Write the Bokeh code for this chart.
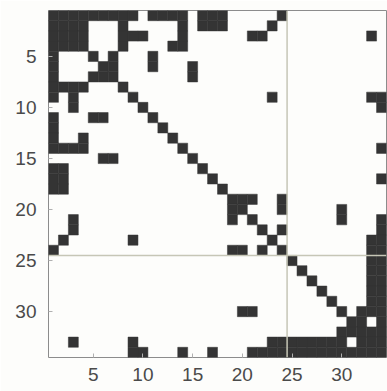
from bokeh.plotting import figure
from bokeh.models import Range1d, FixedTicker, Span, ColumnDataSource
from bokeh.embed import file_html
from bokeh.resources import INLINE

# Zachary karate-club friendships: member -> higher-numbered friends
friends = {
    1: [2, 3, 4, 5, 6, 7, 8, 9, 11, 12, 13, 14, 18, 20, 22, 32],
    2: [3, 4, 8, 14, 18, 20, 22, 31],
    3: [4, 8, 9, 10, 14, 28, 29, 33],
    4: [8, 13, 14],
    5: [7, 11],
    6: [7, 11, 17],
    7: [17],
    9: [31, 33, 34],
    10: [34],
    14: [34],
    15: [33, 34],
    16: [33, 34],
    19: [33, 34],
    20: [34],
    21: [33, 34],
    23: [33, 34],
    24: [26, 28, 30, 33, 34],
    25: [26, 28, 32],
    26: [32],
    27: [30, 34],
    28: [34],
    29: [32, 34],
    30: [33, 34],
    31: [33, 34],
    32: [33, 34],
    33: [34],
}

# Member placed at each row/column (1-based position along the axes)
order = [1, 2, 3, 4, 5, 6, 7, 8, 9, 10, 11, 12, 13, 14, 17, 18, 20, 22,
         25, 26, 28, 29, 31, 32, 15, 16, 19, 21, 23, 24, 27, 30, 33, 34]

tick_values = [5, 10, 15, 20, 25, 30]
block_size = 24          # members in the first group

n = len(order)
pos = {member: k + 1 for k, member in enumerate(order)}

# nonzero pattern of A + I in the chosen ordering
cells = set()
for m in order:
    cells.add((pos[m], pos[m]))
for a, lst in friends.items():
    for b in lst:
        cells.add((pos[a], pos[b]))
        cells.add((pos[b], pos[a]))
cells = sorted(cells)
src = ColumnDataSource(dict(col=[c for _, c in cells], row=[r for r, _ in cells]))

p = figure(width=387, height=391, output_backend="svg", toolbar_location=None,
           x_range=Range1d(0.5, n + 0.5), y_range=Range1d(n + 0.5, 0.5),
           min_border_left=48, min_border_right=1, min_border_top=10,
           min_border_bottom=34, background_fill_color="#fdfdfb",
           border_fill_color="#fdfdfb", outline_line_color="#8c8c8c",
           outline_line_width=1)

ink = "#343434"
p.rect(x="col", y="row", width=1, height=1, source=src,
       fill_color=ink, line_color=ink, line_width=0.5)

for dim in ("width", "height"):
    p.add_layout(Span(location=block_size + 0.5, dimension=dim,
                      line_color="#c6c6b6", line_width=1.5))

p.xgrid.visible = False
p.ygrid.visible = False
for ax in (p.xaxis[0], p.yaxis[0]):
    ax.ticker = FixedTicker(ticks=tick_values)
    ax.axis_line_color = None
    ax.major_tick_in = 4
    ax.major_tick_out = 0
    ax.major_tick_line_color = "#b0b0b0"
    ax.minor_tick_line_color = None
    ax.major_label_text_font = "Liberation Sans"
    ax.major_label_text_font_size = "19px"
    ax.major_label_text_color = "#4a4a4a"
p.xaxis.major_label_standoff = 10
p.yaxis.major_label_standoff = 12

open("out.html", "w").write(file_html(p, INLINE))
